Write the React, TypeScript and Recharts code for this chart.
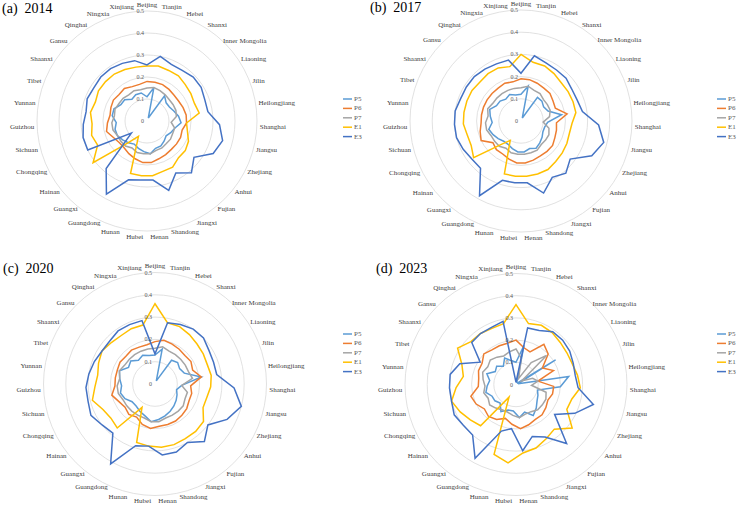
import { RadarChart, PolarGrid, PolarAngleAxis, PolarRadiusAxis, Radar, Legend } from "recharts";

const provinces = [
  "Beijing", "Tianjin", "Hebei", "Shanxi", "Inner Mongolia", "Liaoning", "Jilin", "Heilongjiang",
  "Shanghai", "Jiangsu", "Zhejiang", "Anhui", "Fujian", "Jiangxi", "Shandong", "Henan", "Hubei",
  "Hunan", "Guangdong", "Guangxi", "Hainan", "Chongqing", "Sichuan", "Guizhou", "Yunnan", "Tibet",
  "Shaanxi", "Gansu", "Qinghai", "Ningxia", "Xinjiang",
];

const seriesNames = ["P5", "P6", "P7", "E1", "E3"];
const seriesColors = ["#5B9BD5", "#ED7D31", "#A5A5A5", "#FFC000", "#4472C4"];
const radiusTicks = [0, 0.1, 0.2, 0.3, 0.4, 0.5];

// 2014
const p5_2014 = [.11, .155, .015, .14, .12, .12, .13, .145, .155, .13, .12, .11, .12, .13, .13, .15, .14, .13, .12, .13, .14, .15, .15, .14, .16, .16, .14, .14, .12, .13, .13];
const p6_2014 = [.18, .18, .18, .175, .17, .17, .175, .18, .18, .165, .17, .17, .17, .175, .18, .19, .19, .18, .17, .16, .16, .17, .19, .18, .17, .175, .18, .175, .18, .17, .17];
const p7_2014 = [.15, .155, .15, .145, .14, .14, .14, .135, .11, .13, .13, .135, .135, .14, .14, .15, .15, .15, .14, .15, .15, .15, .16, .16, .15, .155, .15, .15, .145, .15, .145];
const e1_2014 = [.25, .255, .25, .25, .24, .235, .23, .24, .18, .19, .21, .22, .22, .24, .24, .25, .25, .25, .08, .13, .31, .25, .26, .25, .26, .25, .26, .26, .26, .255, .25];
const e3_2014 = [.255, .30, .28, .28, .29, .29, .28, .28, .33, .355, .335, .27, .31, .27, .33, .27, .27, .28, .38, .285, .09, .30, .30, .29, .28, .29, .285, .29, .29, .285, .28];

// 2017
const p5_2017 = [.12, .16, .015, .13, .13, .12, .13, .185, .12, .11, .11, .12, .13, .14, .13, .14, .14, .13, .12, .12, .13, .14, .15, .13, .14, .15, .13, .13, .12, .13, .12];
const p6_2017 = [.19, .19, .185, .18, .18, .17, .165, .21, .16, .165, .17, .18, .18, .18, .185, .19, .19, .18, .17, .17, .16, .20, .19, .18, .18, .18, .18, .18, .18, .185, .18];
const p7_2017 = [.15, .16, .15, .15, .14, .14, .14, .13, .10, .13, .14, .14, .14, .15, .15, .15, .15, .15, .14, .15, .15, .15, .16, .16, .15, .16, .15, .15, .15, .15, .15];
const e1_2017 = [.30, .27, .27, .26, .25, .25, .25, .25, .23, .225, .23, .235, .24, .25, .25, .25, .25, .25, .10, .14, .27, .25, .25, .26, .26, .26, .26, .255, .26, .26, .25];
const e3_2017 = [.215, .30, .285, .28, .28, .27, .27, .28, .35, .385, .355, .28, .31, .29, .34, .28, .28, .28, .385, .28, .28, .29, .30, .30, .30, .29, .29, .29, .285, .28, .28];

// 2020
const p5_2020 = [.13, .16, .015, .13, .14, .13, .14, .21, .12, .10, .11, .12, .13, .14, .15, .16, .17, .15, .14, .13, .13, .15, .16, .15, .16, .17, .14, .15, .13, .14, .13];
const p6_2020 = [.19, .20, .195, .19, .185, .19, .18, .21, .16, .17, .17, .18, .185, .19, .19, .19, .20, .19, .17, .18, .17, .18, .20, .18, .18, .18, .185, .18, .185, .18, .18];
const p7_2020 = [.16, .17, .16, .16, .16, .16, .16, .17, .12, .15, .15, .16, .16, .16, .16, .17, .17, .16, .16, .16, .16, .16, .17, .17, .16, .17, .16, .16, .16, .16, .16];
const e1_2020 = [.36, .28, .28, .27, .26, .255, .25, .255, .25, .24, .24, .275, .28, .28, .285, .285, .28, .275, .12, .26, .25, .26, .29, .27, .26, .27, .28, .27, .265, .27, .27];
const e3_2020 = [.135, .28, .29, .30, .30, .285, .28, .28, .355, .40, .36, .30, .34, .30, .32, .32, .28, .29, .41, .29, .30, .32, .31, .31, .30, .29, .28, .28, .29, .29, .29];

// 2023
const p5_2023 = [.10, .18, .01, .01, .01, .21, .01, .24, .20, .10, .11, .12, .14, .16, .13, .15, .12, .12, .14, .11, .12, .12, .14, .13, .12, .14, .11, .12, .10, .13, .11];
const p6_2023 = [.20, .17, .16, .22, .20, .14, .18, .10, .17, .17, .16, .17, .18, .18, .19, .20, .18, .16, .18, .19, .18, .20, .21, .17, .17, .18, .18, .20, .19, .19, .19];
const p7_2023 = [.16, .12, .03, .12, .19, .03, .08, .10, .07, .14, .15, .15, .15, .14, .14, .15, .14, .13, .13, .14, .15, .14, .15, .14, .15, .16, .15, .16, .15, .14, .15];
const e1_2023 = [.36, .28, .29, .285, .275, .27, .27, .28, .29, .26, .255, .32, .265, .28, .30, .31, .355, .33, .065, .245, .26, .28, .30, .27, .24, .26, .31, .28, .28, .275, .28];
const e3_2023 = [.01, .26, .265, .29, .29, .285, .275, .27, .28, .36, .295, .22, .35, .27, .245, .30, .20, .22, .38, .30, .30, .31, .30, .30, .30, .27, .19, .275, .28, .28, .29];

const FONT = "'Times New Roman', 'Liberation Serif', serif";

function buildRows(series: number[][]) {
  return provinces.map((name, i) => {
    const row: Record<string, string | number> = { name };
    seriesNames.forEach((s, k) => {
      row[s] = series[k][i];
    });
    return row;
  });
}

let measureCtx: CanvasRenderingContext2D | null = null;
function textWidth(s: string) {
  if (!measureCtx) measureCtx = document.createElement("canvas").getContext("2d");
  if (!measureCtx) return s.length * 3.3;
  measureCtx.font = `7px ${FONT}`;
  return measureCtx.measureText(s).width;
}

// legend keeps the series order instead of the sorted payload
const legendContent = () => (
  <svg width={24} height={50}>
    {seriesNames.map((s, i) => (
      <g key={s}>
        <line x1={0} x2={9} y1={3 + i * 9.4} y2={3 + i * 9.4} stroke={seriesColors[i]} strokeWidth={1.5} />
        <text x={11} y={3 + i * 9.4} dominantBaseline="central" fontSize={7} fontFamily={FONT} fill="#595959">
          {s}
        </text>
      </g>
    ))}
  </svg>
);

type PanelProps = {
  tag: string;
  year: string;
  series: number[][];
  left: number;
  top: number;
  cx: number;
  cy: number;
  radius: number;
  titleX: number;
  titleY: number;
  legendX: number;
  legendY: number;
};

function Panel({ tag, year, series, left, top, cx, cy, radius, titleX, titleY, legendX, legendY }: PanelProps) {
  const rows = buildRows(series);
  const n = provinces.length;

  // province labels sit just outside the outer ring, pushed out by half their box
  const angleTick = (p: any) => {
    const i = p.index;
    const a = (i * 2 * Math.PI) / n;
    const s = Math.sin(a);
    const c = Math.cos(a);
    const label = String(p.payload.value);
    const w = textWidth(label);
    const r = radius + 3;
    const x = cx + r * s + (s * w) / 2;
    const y = cy - r * c - (c * 7) / 2;
    return (
      <text x={x} y={y} textAnchor="middle" dominantBaseline="central" fontSize={7} fontFamily={FONT} fill="#404040">
        {label}
      </text>
    );
  };

  const radiusTick = (p: any) => {
    const v = Number(p.payload.value);
    return (
      <text x={cx - 3} y={p.y} textAnchor="end" dominantBaseline="central" fontSize={6} fontFamily={FONT} fill="#595959">
        {v === 0 ? "0" : v.toFixed(1)}
      </text>
    );
  };

  return (
    <div style={{ position: "absolute", left, top, width: 370, height: 254 }}>
      <RadarChart
        width={370}
        height={254}
        data={rows}
        cx={cx}
        cy={cy}
        outerRadius={radius}
        startAngle={90}
        endAngle={-270}
        margin={{ top: 0, right: 0, bottom: 0, left: 0 }}
      >
        <PolarGrid gridType="circle" radialLines={false} stroke="#d9d9d9" strokeWidth={0.8} />
        <PolarAngleAxis dataKey="name" tick={angleTick} tickLine={false} axisLine={false} />
        <PolarRadiusAxis
          angle={90}
          type="number"
          domain={[0, 0.5]}
          allowDecimals
          allowDataOverflow
          ticks={radiusTicks}
          tickCount={6}
          tick={radiusTick}
          axisLine={false}
          tickLine={false}
        />
        {seriesNames.map((s, k) => (
          <Radar
            key={s}
            name={s}
            dataKey={s}
            stroke={seriesColors[k]}
            strokeWidth={1.5}
            fill="none"
            fillOpacity={0}
            dot={false}
            isAnimationActive={false}
          />
        ))}
        <Legend
          layout="vertical"
          align="right"
          verticalAlign="top"
          content={legendContent}
          wrapperStyle={{ left: legendX, top: legendY, width: 24, height: 50 }}
        />
      </RadarChart>
      <div
        style={{
          position: "absolute",
          left: titleX,
          top: titleY - 13,
          fontFamily: FONT,
          fontSize: 14,
          lineHeight: "16px",
          whiteSpace: "pre",
          color: "#000",
        }}
      >
        {`(${tag})  ${year}`}
      </div>
    </div>
  );
}

export default function App() {
  return (
    <div style={{ position: "absolute", left: 0, top: 0, width: 740, height: 507, background: "#fff" }}>
      <Panel tag="a" year="2014" series={[p5_2014, p6_2014, p7_2014, e1_2014, e3_2014]}
        left={0} top={0} cx={147} cy={121} radius={110} titleX={2} titleY={14} legendX={343} legendY={96} />
      <Panel tag="b" year="2017" series={[p5_2017, p6_2017, p7_2017, e1_2017, e3_2017]}
        left={370} top={0} cx={151} cy={121} radius={111} titleX={0} titleY={13} legendX={347} legendY={96} />
      <Panel tag="c" year="2020" series={[p5_2020, p6_2020, p7_2020, e1_2020, e3_2020]}
        left={0} top={253} cx={155} cy={131} radius={111.5} titleX={3} titleY={21} legendX={343} legendY={78} />
      <Panel tag="d" year="2023" series={[p5_2023, p6_2023, p7_2023, e1_2023, e3_2023]}
        left={370} top={253} cx={146} cy={131.5} radius={111} titleX={6} titleY={21} legendX={347} legendY={78} />
    </div>
  );
}
